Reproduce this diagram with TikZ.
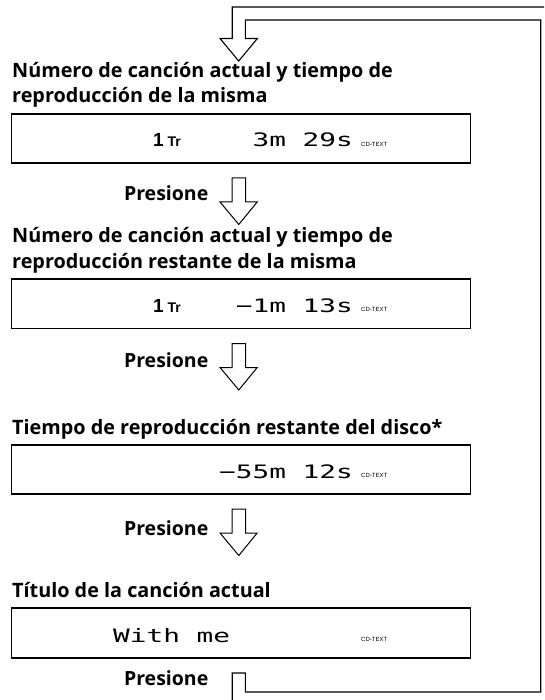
\documentclass[tikz,border=0pt]{standalone}
\usepackage{fontspec}
\setmainfont{Open Sans}
\newfontfamily\lcdfont[FakeStretch=1.5]{DejaVu Sans Mono}
\newfontfamily\cdfont{Liberation Sans}
\begin{document}
\begin{tikzpicture}[x=1pt,y=-1pt,
  titletext/.style={anchor=base west,inner sep=0pt,font=\bfseries\fontsize{19.8}{25}\selectfont},
  presstext/.style={anchor=base east,inner sep=0pt,font=\bfseries\fontsize{19.5}{25}\selectfont},
  lcdbox/.style={draw,line width=1.6pt,anchor=north west,minimum width=459pt,inner sep=0pt},
  lcdtext/.style={anchor=base east,inner sep=0pt,font=\lcdfont\fontsize{18.5}{18.5}\selectfont},
  lcdleft/.style={anchor=base west,inner sep=0pt,font=\lcdfont\fontsize{18.5}{18.5}\selectfont},
  onetext/.style={anchor=base west,inner sep=0pt,font=\cdfont\fontsize{19}{19}\selectfont},
  trtext/.style={anchor=base west,inner sep=0pt,font=\cdfont\bfseries\fontsize{14}{14}\selectfont},
  cdtext/.style={anchor=base west,inner sep=0pt,font=\cdfont\fontsize{6}{6}\selectfont},
  hollow/.style={draw,line width=1pt,line join=miter},
  harrow/.pic={\path[hollow] (-6.7,0) -- (-6.7,24) -- (-18.8,24) -- (0,46.5) -- (18.4,24) -- (6.7,24) -- (6.7,0) -- cycle;}
]
\useasboundingbox (0,0) rectangle (544,700);
\clip (0,0) rectangle (544,700);

% loop arrow
\coordinate (loopstart) at (560,7);
\coordinate (loopend) at (232.2,710);
\path[hollow,line width=1.1pt] (loopstart) -- (232.2,7) -- (232.2,38.5) -- (220,38.5) -- (238.7,61)
  -- (257.4,38.5) -- (245.4,38.5) -- (245.4,20) -- (540.7,20) -- (540.7,692)
  -- (245.4,692) -- (245.4,673) -- (232.2,673) -- (loopend);

% block 1
\node[titletext] (t1a) at (12,78) {Número de canción actual y tiempo de};
\node[titletext] (t1b) at (12,103) {reproducción de la misma};
\node[lcdbox,minimum height=49pt] (b1) at (10.5,113) {};
\node[onetext] (n1) at (153,147) {\textbf{1}};
\node[trtext] (tr1) at (167.5,147) {T\kern-0.8pt r};
\node[lcdtext] (d1) at (353,147) {3m 29s};
\node[cdtext] (c1) at (361,146.5) {CD-TEXT};

\node[presstext] (p1) at (208.5,201) {Presione};
\pic at (238.8,178) {harrow};

% block 2
\node[titletext] (t2a) at (12,243) {Número de canción actual y tiempo de};
\node[titletext] (t2b) at (12,268) {reproducción restante de la misma};
\node[lcdbox,minimum height=49.5pt] (b2) at (10.5,278) {};
\node[onetext] (n2) at (153,312) {\textbf{1}};
\node[trtext] (tr2) at (167.5,312) {T\kern-0.8pt r};
\node[lcdtext] (d2) at (353,312) {−1m 13s};
\node[cdtext] (c2) at (361,311.5) {CD-TEXT};

\node[presstext] (p2) at (208.5,367) {Presione};
\pic at (238.8,343.5) {harrow};

% block 3
\node[titletext] (t3) at (12,434) {Tiempo de reproducción restante del disco*};
\node[lcdbox,minimum height=49pt] (b3) at (10.5,444) {};
\node[lcdtext] (d3) at (353,478) {−55m 12s};
\node[cdtext] (c3) at (361,477.5) {CD-TEXT};

\node[presstext] (p3) at (208.5,535) {Presione};
\pic at (238.8,509) {harrow};

% block 4
\node[titletext] (t4) at (12,597) {Título de la canción actual};
\node[lcdbox,minimum height=50pt] (b4) at (10.5,607) {};
\node[lcdleft] (d4) at (113,642) {With me};
\node[cdtext] (c4) at (361,641.5) {CD-TEXT};

\node[presstext] (p4) at (208.5,685) {Presione};
\end{tikzpicture}
\end{document}
